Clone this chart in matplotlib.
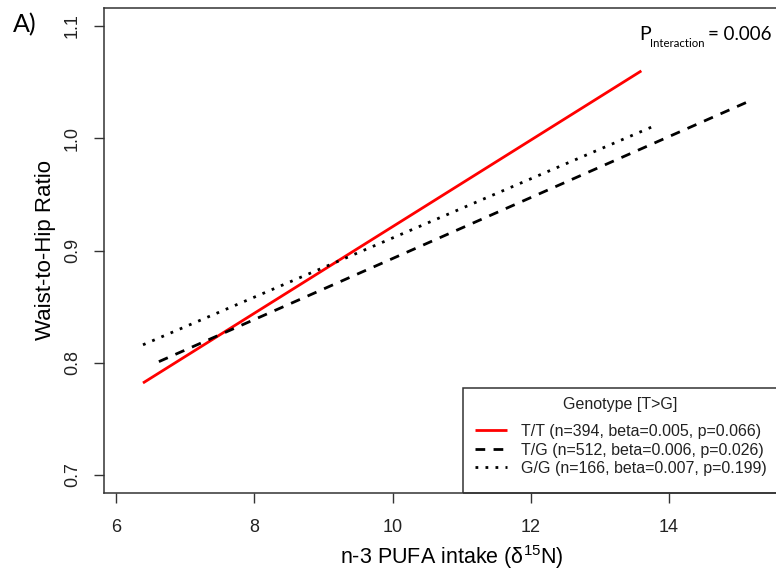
import numpy as np
import matplotlib
matplotlib.use('Agg')
import matplotlib.pyplot as plt
from matplotlib.patches import Rectangle

# fitted lines per genotype (endpoints over each group's intake range)
genotypes = ['T/T', 'T/G', 'G/G']
labels = ['T/T (n=394, beta=0.005, p=0.066)',
          'T/G (n=512, beta=0.006, p=0.026)',
          'G/G (n=166, beta=0.007, p=0.199)']
x_start = [6.39, 6.62, 6.39]
x_end = [13.60, 15.16, 13.75]
y_start = [0.782, 0.801, 0.816]
y_end = [1.060, 1.033, 1.010]
colors = ['red', 'black', 'black']
styles = ['-', (0, (3.5, 3.0)), (0, (1.0, 2.6))]

x_ticks = [6, 8, 10, 12, 14]
y_ticks = [0.7, 0.8, 0.9, 1.0, 1.1]

plt.rcParams['font.family'] = ['Liberation Sans', 'DejaVu Sans']
plt.rcParams['mathtext.fontset'] = 'custom'
plt.rcParams['mathtext.rm'] = 'Liberation Sans'
plt.rcParams['mathtext.default'] = 'regular'

W, H = 776, 574
fig = plt.figure(figsize=(W / 100, H / 100), dpi=100)
# plot region: left 104px, right 800px (runs past the edge), top 8px, bottom 493px
ax = fig.add_axes([104 / W, (H - 493) / H, 696 / W, 485 / H])

def ax_x(px):
    return (px - 104) / 696.0

def ax_y(py):
    return (493 - py) / 485.0

for i in range(len(genotypes)):
    ax.plot([x_start[i], x_end[i]], [y_start[i], y_end[i]], color=colors[i],
            linestyle=styles[i], lw=2.0, dash_capstyle='butt',
            solid_capstyle='butt', label=labels[i])

ax.set_xlim(5.826, 15.895)
ax.set_ylim(0.684, 1.116)
ax.set_xticks(x_ticks)
ax.set_xticklabels([str(t) for t in x_ticks])
ax.set_yticks(y_ticks)
ax.set_yticklabels(['%.1f' % t for t in y_ticks], rotation=90, va='center')
ax.tick_params(direction='out', length=7.5, width=1.0, colors='#333333',
               labelcolor='#222222', labelsize=13)
ax.tick_params(axis='x', pad=11)
ax.tick_params(axis='y', pad=9)
for s in ['left', 'bottom', 'top', 'right']:
    ax.spines[s].set_color('#333333')
    ax.spines[s].set_linewidth(1.1)

ax.set_xlabel('n-3 PUFA intake (δ$^{15}$N)', fontsize=15.5, labelpad=5)
ax.set_ylabel('Waist-to-Hip Ratio', fontsize=16, labelpad=6)

# legend box runs to the plot's right edge
ax.add_patch(Rectangle((ax_x(463), 0), 1.05 - ax_x(463), ax_y(388),
                       transform=ax.transAxes, fill=False,
                       edgecolor='#333333', lw=1.1, clip_on=False, zorder=5))
ax.text(ax_x(620), ax_y(404), 'Genotype [T>G]', transform=ax.transAxes,
        ha='center', va='center', fontsize=11.5, color='#222222')
ax.legend(loc='upper left', bbox_to_anchor=(ax_x(475), ax_y(424)),
          borderpad=0, borderaxespad=0, frameon=False, fontsize=11.5,
          handlelength=2.0, handletextpad=0.9, labelspacing=0.22,
          labelcolor='#222222')

fig.text(13 / W, (H - 32) / H, 'A)', family='Lato', fontsize=18,
         ha='left', va='baseline')
fig.text(639 / W, (H - 40) / H, 'P', family='Lato', fontsize=14,
         ha='left', va='baseline')
fig.text(650 / W, (H - 47) / H, 'Interaction', family='Lato', fontsize=8.2,
         ha='left', va='baseline')
fig.text(771 / W, (H - 40) / H, '= 0.006', family='Lato', fontsize=13.5,
         ha='right', va='baseline')

fig.savefig('out.png', dpi=100)
